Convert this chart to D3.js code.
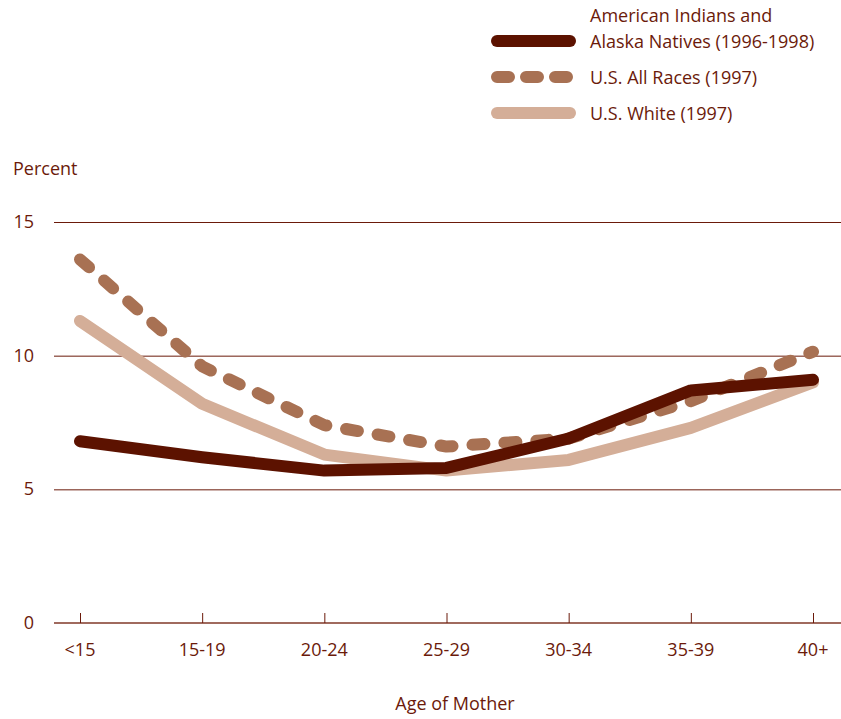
<!DOCTYPE html>
<html>
<head>
<meta charset="utf-8">
<script src="https://d3js.org/d3.v7.min.js"></script>
<style>
  body { margin: 0; background: #fff; }
  text { font-family: "Open Sans", "Noto Sans", sans-serif; fill: #6b1a0a; font-size: 18px; }
</style>
</head>
<body>
<script>
// categories and series
var ages = ["<15", "15-19", "20-24", "25-29", "30-34", "35-39", "40+"];
var aian = [6.8, 6.2, 5.7, 5.8, 6.9, 8.7, 9.1];
var allRaces = [13.6, 9.6, 7.4, 6.6, 6.9, 8.3, 10.15];
var white = [11.3, 8.2, 6.3, 5.7, 6.1, 7.3, 9.0];
var yTicks = [0, 5, 10, 15];

var seriesNames = ["American Indians and|Alaska Natives (1996-1998)", "U.S. All Races (1997)", "U.S. White (1997)"];
var seriesColors = ["#5c1200", "#a87153", "#d4ae98"];

var width = 841, height = 719;

var svg = d3.select("body").append("svg")
    .attr("width", width)
    .attr("height", height);

var x = d3.scalePoint()
    .domain(ages)
    .range([80, 813]);

var y = d3.scaleLinear()
    .domain([0, 15])
    .range([623, 222]);

//gridlines
svg.selectAll(".grid")
    .data(yTicks.filter(function (d) { return d > 0; }))
    .enter()
    .append("line")
    .attr("class", "grid")
    .attr("x1", 54)
    .attr("x2", width)
    .attr("y1", function (d) { return y(d) + 0.5; })
    .attr("y2", function (d) { return y(d) + 0.5; })
    .attr("stroke", "#6b1a0a")
    .attr("stroke-width", 1);

//baseline
svg.append("line")
    .attr("x1", 54)
    .attr("x2", width)
    .attr("y1", y(0))
    .attr("y2", y(0))
    .attr("stroke", "#a06a5e")
    .attr("stroke-width", 2);

//x ticks
svg.selectAll(".xtick")
    .data(ages)
    .enter()
    .append("line")
    .attr("x1", function (d) { return x(d) + 0.5; })
    .attr("x2", function (d) { return x(d) + 0.5; })
    .attr("y1", y(0) - 10)
    .attr("y2", y(0))
    .attr("stroke", "#6b1a0a")
    .attr("stroke-width", 1);

svg.selectAll(".xlabel")
    .data(ages)
    .enter()
    .append("text")
    .attr("x", function (d) { return x(d); })
    .attr("y", 656)
    .attr("text-anchor", "middle")
    .text(function (d) { return d; });

svg.selectAll(".ylabel")
    .data(yTicks)
    .enter()
    .append("text")
    .attr("x", 34)
    .attr("y", function (d) { return y(d) + 6; })
    .attr("text-anchor", "end")
    .text(function (d) { return d; });

svg.append("text")
    .attr("x", 13)
    .attr("y", 175)
    .text("Percent");

svg.append("text")
    .attr("x", 455)
    .attr("y", 710)
    .attr("text-anchor", "middle")
    .text("Age of Mother");

//lines
var line = d3.line()
    .x(function (d, i) { return x(ages[i]); })
    .y(function (d) { return y(d); });

svg.append("path")
    .datum(white)
    .attr("d", line)
    .attr("fill", "none")
    .attr("stroke", seriesColors[2])
    .attr("stroke-width", 12)
    .attr("stroke-linecap", "round")
    .attr("stroke-linejoin", "round");

svg.append("path")
    .datum(allRaces)
    .attr("d", line)
    .attr("fill", "none")
    .attr("stroke", seriesColors[1])
    .attr("stroke-width", 12)
    .attr("stroke-dasharray", "12,20")
    .attr("stroke-linecap", "round")
    .attr("stroke-linejoin", "round");

svg.append("path")
    .datum(aian)
    .attr("d", line)
    .attr("fill", "none")
    .attr("stroke", seriesColors[0])
    .attr("stroke-width", 12)
    .attr("stroke-linecap", "round")
    .attr("stroke-linejoin", "round");

//legend
var legendY = [41, 77, 113];
var legend = svg.selectAll(".legend")
    .data(seriesNames)
    .enter()
    .append("g")
    .attr("class", "legend")
    .attr("transform", function (d, i) { return "translate(0," + legendY[i] + ")"; });

legend.append("line")
    .attr("x1", 497)
    .attr("x2", 570)
    .attr("y1", 0)
    .attr("y2", 0)
    .attr("stroke", function (d, i) { return seriesColors[i]; })
    .attr("stroke-width", 12)
    .attr("stroke-linecap", "round")
    .attr("stroke-dasharray", function (d, i) { return i == 1 ? "12,17" : null; });

legend.each(function (d) {
    var parts = d.split("|");
    var g = d3.select(this);
    parts.forEach(function (p, j) {
        g.append("text")
            .attr("x", 590)
            .attr("y", 7 - (parts.length - 1 - j) * 26)
            .text(p);
    });
});
</script>
</body>
</html>
